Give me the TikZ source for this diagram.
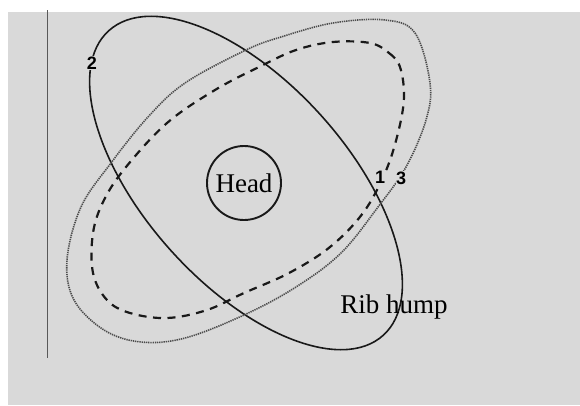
\documentclass[tikz,border=0pt]{standalone}
\usepackage{fontspec}
\setmainfont{Liberation Serif}
\newfontfamily\digitfont{Liberation Sans}
\usetikzlibrary{positioning}

\begin{document}
\begin{tikzpicture}[x=1pt, y=-1pt,
  outline/.style={draw=black!90, line width=1.6pt},
  hump/.style={draw=black!70, line width=1.6pt, dash pattern=on 1.3pt off 0.9pt},
  trunk/.style={draw=black!90, line width=2.2pt, dash pattern=on 8pt off 6.5pt},
  num/.style={font=\digitfont\bfseries\fontsize{18}{18}\selectfont, fill=black!15,
              inner sep=0.5pt},
  lbl/.style={font=\fontsize{27}{30}\selectfont, inner sep=0pt}
]
% Page
\useasboundingbox (0,0) rectangle (580,405);
\fill[black!15] (8,12) rectangle (580,405);
\draw[black!65, line width=0.8pt] (47,10) -- (47,358);
% Shoulder outline
\coordinate (mid) at (246,183);
\draw[outline, rotate around={-48:(mid)}] (mid) ellipse [x radius=205, y radius=101];
% Rib hump outline
\draw[hump] plot[smooth cycle, tension=0.6] coordinates {
  (385,20) (415,33) (430,83) (426,120) (406,167) (378,207) (341,253)
  (296,287) (244,315) (185,338) (141,342) (104,330) (74,300) (67,260)
  (81,207) (111,163) (148,117) (185,83) (246,50) (281,37) (333,23)};
% Trunk outline
\draw[trunk] plot[smooth cycle, tension=0.6] coordinates {
  (370,43) (389,53) (400,67) (404,97) (398,133) (385,173) (363,213)
  (330,247) (289,273) (244,293) (207,310) (167,318) (130,313) (107,300)
  (93,273) (93,233) (104,200) (126,167) (167,123) (215,90) (259,67)
  (296,50) (333,42)};
% Head
\node[lbl, draw=black!90, circle, line width=1.9pt, minimum size=74pt] (head) at (244,183) {Head};
% Labels
\node[lbl, anchor=base] (rib) at (394,313) {Rib hump};
\node[num] (mark2) at (92,63) {2};
\node[num] (mark1) at (380,177) {1};
\node[num] (mark3) at (401,178) {3};
\end{tikzpicture}
\end{document}
